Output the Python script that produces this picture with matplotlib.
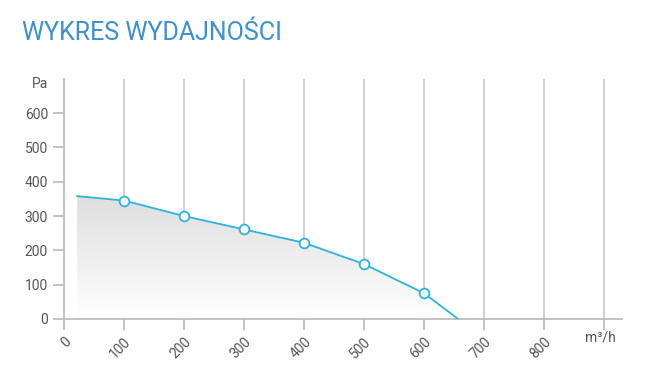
import matplotlib
matplotlib.use("Agg")
import matplotlib.pyplot as plt
import numpy as np
from matplotlib.patches import Polygon

plt.rcParams['font.family'] = ['Roboto', 'DejaVu Sans']

# curve data (m3/h, Pa)
flow = [22, 100, 200, 300, 400, 500, 600, 657]
pressure = [358, 345, 300, 261, 222, 160, 75, 0]
# points with markers
mflow = [100, 200, 300, 400, 500, 600]
mpress = [345, 300, 261, 222, 160, 75]
xticks = [0, 100, 200, 300, 400, 500, 600, 700, 800, 900]
xlabels = ['0', '100', '200', '300', '400', '500', '600', '700', '800', '']
yticks = [0, 100, 200, 300, 400, 500, 600]

fig = plt.figure(figsize=(6.59, 3.79), dpi=100)
ax = fig.add_axes([64/659, 1-319/379, (622-64)/659, 240.3/379])
ax.set_xlim(0, 930)
ax.set_ylim(0, 700)

for s in ['top', 'right']:
    ax.spines[s].set_visible(False)
for s in ['left', 'bottom']:
    ax.spines[s].set_color('#b8b8b8')
    ax.spines[s].set_linewidth(1.2)

for x in xticks[1:]:
    ax.axvline(x, color='#d0d0d0', lw=1.4, zorder=0)

# gradient fill under the curve
grad = np.linspace(0, 1, 256).reshape(-1, 1)
im = ax.imshow(grad, extent=[0, 930, 0, 360], origin='lower', aspect='auto',
               cmap=matplotlib.colors.LinearSegmentedColormap.from_list('g', ['#ffffff', '#dedede']),
               zorder=1)
poly = Polygon(list(zip(flow, pressure)) + [(flow[-1], 0), (flow[0], 0)], closed=True,
               facecolor='none', edgecolor='none')
ax.add_patch(poly)
im.set_clip_path(poly)

ax.plot(flow, pressure, color='#2bb5de', lw=1.3, zorder=3)
ax.plot(mflow, mpress, 'o', ms=7, mfc='white', mec='#2bb5de', mew=1.3, zorder=4)

ax.set_xticks(xticks)
ax.set_xticklabels(xlabels)
ax.set_yticks(yticks)
ax.tick_params(axis='both', colors='#b8b8b8', labelcolor='#555555', labelsize=10, length=8, width=1.2)
plt.setp(ax.get_xticklabels(), rotation=45, ha='right', rotation_mode='anchor')
ax.set_ylim(0, 700)

fig.text(40/659, 1-84/379, 'Pa', color='#555555', fontsize=10, ha='center', va='center')
fig.text(600/659, 1-337/379, 'm³/h', color='#555555', fontsize=10, ha='center', va='center')
fig.text(22/659, 1-33/379, 'WYKRES WYDAJNOŚCI', color='#3a90d0', fontsize=18, ha='left', va='center')

fig.savefig('out.png', dpi=100)
